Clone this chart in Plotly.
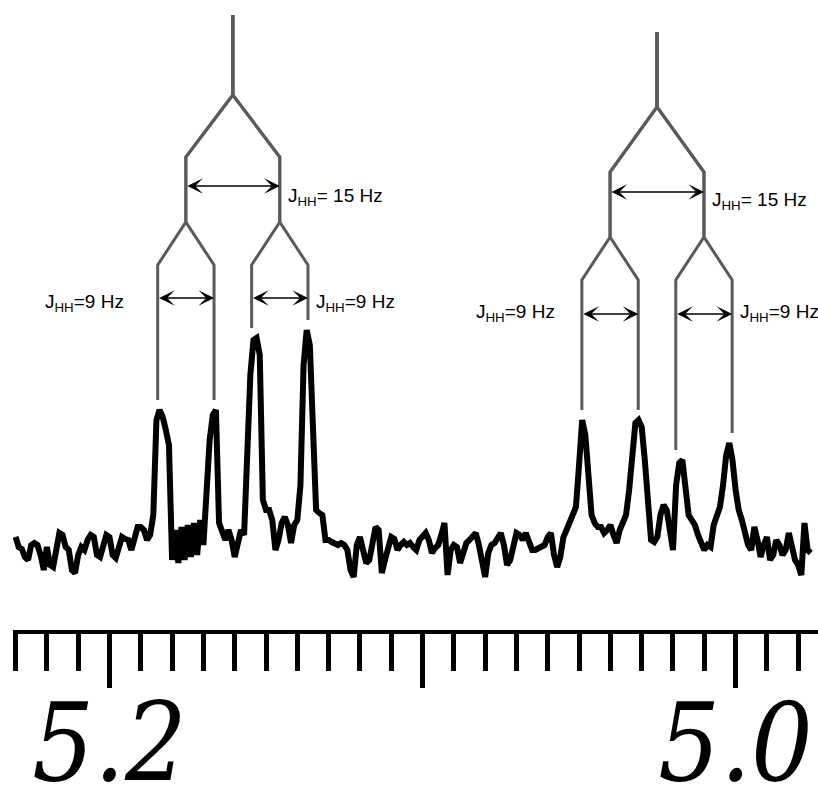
import numpy as np
import plotly.graph_objects as go

# ---------------- data ----------------
# digitised 1H NMR trace (uniform sampling in ppm, arbitrary intensity units)
ppm_start = 5.230
ppm_step = 0.001
intensity = [
    8, -2, -4, -12, -15, 0, 2, 0, -10, -25,
    -2, -20, -22, -8, 12, 10, -2, -5, -25, -28,
    -10, -2, -5, 5, 10, 8, -10, -12, 0, 10,
    8, -10, -13, 0, 8, 6, 5, -5, 10, 18,
    18, 15, 5, 10, 30, 125, 135, 128, 115, 100,
    -15, 15, -18, 18, -15, 20, -12, 22, -10, 25,
    0, 60, 105, 130, 135, 22, 15, 5, 15, 5,
    -12, 0, 15, 10, 100, 170, 205, 207, 190, 45,
    35, 35, 25, -5, 5, 22, 28, 20, 2, 20,
    25, 60, 180, 215, 200, 110, 35, 32, 30, 5,
    5, 3, 2, 0, 2, 0, -5, -25, -32, 0,
    8, -5, -18, -15, 5, 18, 15, -28, -15, 0,
    8, 6, -5, 0, 3, 0, 2, -2, -5, 5,
    8, 12, 5, -8, -3, 0, 10, 22, -30, -5,
    0, -2, -18, -5, 2, 5, 8, 12, 0, -20,
    -32, -8, 0, 2, 8, 12, 0, -20, -15, 2,
    12, 10, 5, 12, 5, -5, -5, -3, -2, 0,
    8, 12, -10, -22, -12, 8, 15, 22, 30, 38,
    80, 125, 110, 70, 30, 22, 18, 18, 12, 15,
    20, 10, 2, 15, 25, 30, 55, 95, 122, 125,
    118, 85, 50, 5, 3, 8, 30, 40, 35, 15,
    -5, 60, 82, 85, 50, 30, 25, 20, 10, 0,
    -5, 0, -2, 20, 30, 38, 60, 90, 102, 85,
    55, 35, 25, 10, 0, -5, 18, 5, -12, 0,
    8, -15, -10, 5, 0, -10, -5, 12, 0, -15,
    -20, -30, 22, -5, -8,
]

# multiplet (doublet of doublets) centres, couplings, spectrometer frequency
multiplet_centers = [5.1606, 5.0251]
j_large_hz = 15
j_small_hz = 9
spectrometer_mhz = 500

# axis ticks
major_tickvals = [5.2, 5.1, 5.0]
major_ticktext = ["5.2", "", "5.0"]

# ---------------- styling / layout constants ----------------
tree_levels = [            # root top, first split, branch end, second split, leg end
    [530, 450, 388, 323, 280],
    [513, 438, 373, 308, 265],
]
arrow_levels = [           # (large J arrow, small J arrow)
    (359, 247),
    (353, 231),
]
label_levels = [           # (large J label, small J label)
    (348, 242),
    (344, 232),
]
TREE_COLOR = "rgb(90,90,90)"
LABEL_FONT = dict(family="Liberation Sans", size=19, color="black")

ppm = ppm_start - ppm_step * np.arange(len(intensity))
inten = np.array(intensity, dtype=float)

fig = go.Figure()

fig.add_trace(go.Scatter(
    x=ppm, y=inten, mode="lines",
    line=dict(color="black", width=6), hoverinfo="skip", showlegend=False,
))

half_large = j_large_hz / spectrometer_mhz / 2
half_small = j_small_hz / spectrometer_mhz / 2

annotations = []
for k, c in enumerate(multiplet_centers):
    top, s1, b_end, s2, leg = tree_levels[k]
    xs, ys = [], []
    for sL in (+1, -1):
        for sS in (+1, -1):
            mid = c + sL * half_large
            line_x = mid + sS * half_small
            near = np.abs(ppm - line_x) <= 0.003
            peak_top = inten[near].max() + 10
            xs += [c, c, mid, mid, line_x, line_x, None]
            ys += [top, s1, b_end, s2, leg, peak_top, None]
    fig.add_trace(go.Scatter(
        x=xs, y=ys, mode="lines",
        line=dict(color=TREE_COLOR, width=3), hoverinfo="skip", showlegend=False,
    ))

    yL, yS = arrow_levels[k]
    arrow_common = dict(
        xref="x", yref="y", axref="x", ayref="y", text="", showarrow=True,
        arrowhead=3, startarrowhead=3, arrowside="end+start",
        arrowsize=2.0, startarrowsize=2.0, arrowwidth=1.3, arrowcolor="black",
        standoff=0, startstandoff=0,
    )
    # large coupling arrow
    annotations.append(dict(x=c - half_large, y=yL, ax=c + half_large, ay=yL, **arrow_common))
    # small coupling arrows
    for sL in (+1, -1):
        mid = c + sL * half_large
        annotations.append(dict(x=mid - half_small, y=yS, ax=mid + half_small, ay=yS, **arrow_common))

    lyL, lyS = label_levels[k]
    annotations.append(dict(
        x=c - half_large - 0.002, y=lyL, xref="x", yref="y", xanchor="left", yanchor="middle",
        text=f"J<sub>HH</sub>= {j_large_hz} Hz", showarrow=False, font=LABEL_FONT,
    ))
    # left small-J label (to the left of the left doublet)
    left_line = c + half_large + half_small
    gap_left = 0.0100 if k == 0 else 0.0080
    annotations.append(dict(
        x=left_line + gap_left, y=lyS, xref="x", yref="y", xanchor="right", yanchor="middle",
        text=f"J<sub>HH</sub>={j_small_hz} Hz", showarrow=False, font=LABEL_FONT,
    ))
    right_line = c - half_large - half_small
    annotations.append(dict(
        x=right_line - 0.002, y=lyS, xref="x", yref="y", xanchor="left", yanchor="middle",
        text=f"J<sub>HH</sub>={j_small_hz} Hz", showarrow=False, font=LABEL_FONT,
    ))

fig.update_layout(
    width=818, height=791,
    margin=dict(l=13, r=0, t=0, b=161, autoexpand=False),
    paper_bgcolor="white", plot_bgcolor="white",
    showlegend=False,
    annotations=annotations,
    xaxis=dict(
        range=[5.2 + 96 / 3115, 5.2 - 705 / 3115],
        automargin=False,
        showgrid=False, zeroline=False,
        showline=True, linewidth=4, linecolor="black",
        tickmode="array", tickvals=major_tickvals, ticktext=major_ticktext,
        ticks="outside", ticklen=54, tickwidth=5, tickcolor="black",
        ticklabelstandoff=-38, ticklabeloverflow="allow",
        tickfont=dict(family="DejaVu Serif Condensed, DejaVu Serif", size=108,
                      color="black", style="italic"),
        minor=dict(tickmode="linear", tick0=5.0, dtick=0.01, ticks="outside",
                   ticklen=37, tickwidth=5, tickcolor="black"),
    ),
    yaxis=dict(range=[-85, 545], visible=False, showgrid=False, zeroline=False),
)

fig.write_html(
    "out.html",
    config={"displayModeBar": False},
    post_script="document.body.style.margin='0';document.body.style.overflow='hidden';",
)
